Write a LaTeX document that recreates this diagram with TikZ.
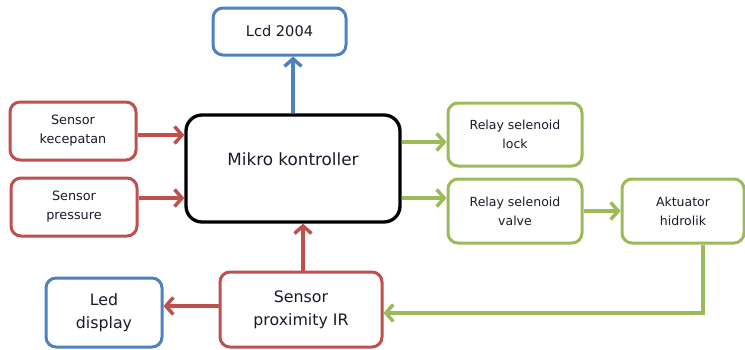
\documentclass[tikz,border=0pt]{standalone}
\usepackage{fontspec}
\setmainfont{DejaVu Sans}
\usetikzlibrary{arrows.meta}
\definecolor{cred}{HTML}{C0504D}
\definecolor{cblue}{HTML}{4F81BD}
\definecolor{cgreen}{HTML}{9BBB59}
\definecolor{ctext}{HTML}{1A1A2A}
\begin{document}
\begin{tikzpicture}[x=1pt,y=-1pt,
  box/.style={draw, line width=3pt, rounded corners=10pt, align=center,
    inner sep=0pt, fill=white, text=ctext},
  redbox/.style={box, draw=cred},
  bluebox/.style={box, draw=cblue},
  greenbox/.style={box, draw=cgreen},
  conn/.style={line width=3.5pt, -{Straight Barb[length=7.5pt,width=17pt]}},
  redarrow/.style={conn, draw=cred},
  bluearrow/.style={conn, draw=cblue},
  greenarrow/.style={conn, draw=cgreen},
  small/.style={font=\fontsize{12.8}{19}\selectfont},
  mid/.style={font=\fontsize{12.5}{19}\selectfont},
  big/.style={font=\fontsize{15.8}{23}\selectfont}]
\useasboundingbox (0,0) rectangle (745,349);

% blocks
\node[bluebox, minimum width=133pt, minimum height=47pt, font=\fontsize{14.6}{18}\selectfont]
  (lcd) at (279.5,31.5) {Lcd 2004};
\node[redbox, small, minimum width=126pt, minimum height=58pt]
  (kec) at (73,131) {Sensor\\kecepatan};
\node[redbox, small, minimum width=126pt, minimum height=58pt]
  (pres) at (74,207) {Sensor\\pressure};
\node[box, draw=black, line width=3.3pt, rounded corners=16pt,
  minimum width=214pt, minimum height=107pt] (mk) at (293,168.5) {};
\node[text=ctext, font=\fontsize{16.8}{20}\selectfont] (mktext) at (293,159) {Mikro kontroller};
\node[greenbox, mid, minimum width=134pt, minimum height=63pt]
  (lock) at (515,134.5) {Relay selenoid\\lock};
\node[greenbox, mid, minimum width=134pt, minimum height=64pt]
  (valve) at (515,211) {Relay selenoid\\valve};
\node[greenbox, mid, minimum width=122pt, minimum height=64pt]
  (akt) at (683,211) {Aktuator\\hidrolik};
\node[bluebox, big, minimum width=116pt, minimum height=69pt]
  (led) at (104,312.5) {Led\\display};
\node[redbox, big, minimum width=162pt, minimum height=75pt]
  (prox) at (301,309.5) {Sensor\\proximity IR};

% connectors
\draw[bluearrow] (mk.north) -- (mk.north |- lcd.south);
\coordinate (k1) at ([yshift=-4pt]kec.east);
\draw[redarrow] (k1) -- (k1 -| mk.west);
\coordinate (p1) at ([yshift=9pt]pres.east);
\draw[redarrow] (p1) -- (p1 -| mk.west);
\coordinate (l1) at ([yshift=-7.5pt]lock.west);
\draw[greenarrow] (l1 -| mk.east) -- (l1);
\coordinate (v1) at ([yshift=13pt]valve.west);
\draw[greenarrow] (v1 -| mk.east) -- (v1);
\draw[greenarrow] (valve.east) -- (akt.west);
\coordinate (a1) at ([xshift=20pt]akt.south);
\coordinate (r1) at ([yshift=-3.5pt]prox.east);
\draw[greenarrow] (a1) |- (r1);
\coordinate (x1) at ([xshift=2pt]prox.north);
\draw[redarrow] (x1) -- (x1 |- mk.south);
\coordinate (s1) at ([yshift=3.5pt]prox.west);
\draw[redarrow] (s1) -- (s1 -| led.east);
\end{tikzpicture}
\end{document}
